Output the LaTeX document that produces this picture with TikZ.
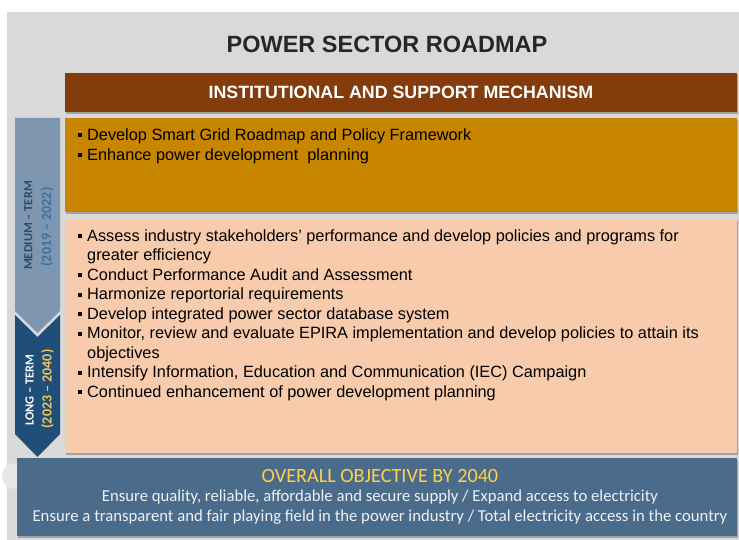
\documentclass[tikz,border=0pt]{standalone}
\usepackage{fontspec}
\setmainfont{Liberation Sans}
\newfontfamily\calib{Carlito}
\usetikzlibrary{shadows}

\definecolor{panelgray}{HTML}{D9D9D9}
\definecolor{bannerbrown}{HTML}{843C0C}
\definecolor{mediumorange}{HTML}{C78500}
\definecolor{longpeach}{HTML}{F8CBAD}
\definecolor{mediumblue}{HTML}{7F96B0}
\definecolor{longblue}{HTML}{1F4E79}
\definecolor{goalblue}{HTML}{4B6B8B}
\definecolor{goalgold}{HTML}{FFD149}
\definecolor{goaltext}{HTML}{EEF2F6}
\definecolor{titlegray}{HTML}{262626}
\definecolor{medlabel}{HTML}{2C4A6E}
\definecolor{medyear}{HTML}{3F6EA0}
\definecolor{longyear}{HTML}{F2C75C}
\definecolor{haze}{HTML}{E6E6E6}

\begin{document}
\begin{tikzpicture}[x=1pt,y=-1pt,
  panelbox/.style={rectangle,inner sep=0pt,outer sep=0pt,anchor=north west},
  boxshadow/.style={drop shadow={shadow xshift=1.2pt,shadow yshift=-2pt,opacity=0.35,fill=black!75}},
  itemline/.style={anchor=base west,inner sep=0pt,text=black,
    font=\fontsize{16.3}{19.5}\selectfont},
  sidelabel/.style={rotate=90,inner sep=0pt,font=\calib\bfseries\fontsize{12.4}{14}\selectfont},
  sideyear/.style={rotate=90,inner sep=0pt,font=\calib\bfseries\fontsize{14}{15}\selectfont},
  goalline/.style={anchor=base,inner sep=0pt,text=goaltext,font=\calib\fontsize{16.7}{19}\selectfont}]
\newcommand{\sq}{\llap{\raisebox{3pt}{\rule{4pt}{4pt}}\hspace{5.2pt}}}

% canvas and grey panel
\useasboundingbox (0,0) rectangle (739,540);
\fill[white] (0,0) rectangle (739,540);
\node[panelbox,fill=panelgray,minimum width=732pt,minimum height=528pt] (panel) at (7,12) {};
\fill[haze] (15,476) circle (13);

% title
\node[anchor=base,inner sep=0pt,text=titlegray,font=\bfseries\fontsize{23.5}{26}\selectfont]
  (title) at (387,52.5) {POWER SECTOR ROADMAP};

% banner
\node[panelbox,fill=bannerbrown,minimum width=672pt,minimum height=39pt,boxshadow,
  text=white,font=\bfseries\fontsize{17.8}{20}\selectfont] (banner) at (65,72.7)
  {INSTITUTIONAL AND SUPPORT MECHANISM};

% medium-term and long-term boxes
\node[panelbox,fill=mediumorange,minimum width=672pt,minimum height=93.5pt,boxshadow]
  (medbox) at (65,118.2) {};
\node[panelbox,fill=longpeach,minimum width=672pt,minimum height=233pt,boxshadow]
  (longbox) at (65,219.5) {};

% time-frame chevrons on the left
\fill[mediumblue] (15,118) -- (60,118) -- (60,311) -- (37.5,333) -- (15,311) -- cycle;
\fill[longblue] (15,315) -- (37.5,337) -- (60,315) -- (60,434) -- (37.5,457) -- (15,434) -- cycle;

\node[sidelabel,text=medlabel] (medlab) at (28.5,225.5) {MEDIUM – TERM};
\node[sideyear,text=medyear] (medyr) at (47,227) {(2019 – 2022)};
\node[sidelabel,text=white] (longlab) at (29.5,390) {LONG – TERM};
\node[sideyear,text=longyear] (longyr) at (47.5,389) {(2023 – 2040)};

% medium-term items
\node[itemline] (m1) at (87,140.5) {\sq Develop Smart Grid Roadmap and Policy Framework};
\node[itemline] (m2) at (87,160.5) {\sq Enhance power development\ \ planning};

% long-term items
\node[itemline] (l1) at (87,241) {\sq Assess industry stakeholders’ performance and develop policies and programs for};
\node[itemline] (l1b) at (87,260.5) {greater efficiency};
\node[itemline] (l2) at (87,280) {\sq Conduct Performance Audit and Assessment};
\node[itemline] (l3) at (87,299.5) {\sq Harmonize reportorial requirements};
\node[itemline] (l4) at (87,319) {\sq Develop integrated power sector database system};
\node[itemline] (l5) at (87,338.5) {\sq Monitor, review and evaluate EPIRA implementation and develop policies to attain its};
\node[itemline] (l5b) at (87,358) {objectives};
\node[itemline] (l6) at (87,377.5) {\sq Intensify Information, Education and Communication (IEC) Campaign};
\node[itemline] (l7) at (87,397) {\sq Continued enhancement of power development planning};

% overall objective
\node[panelbox,fill=goalblue,minimum width=720pt,minimum height=78pt,boxshadow]
  (goal) at (17,458) {};
\node[anchor=base,inner sep=0pt,text=goalgold,font=\calib\fontsize{20.2}{22}\selectfont]
  (goaltitle) at (380,482.5) {OVERALL OBJECTIVE BY 2040};
\node[goalline] (g1) at (380,501.5) {Ensure quality, reliable, affordable and secure supply / Expand access to electricity};
\node[goalline] (g2) at (380,521) {Ensure a transparent and fair playing field in the power industry / Total electricity access in the country};
\end{tikzpicture}
\end{document}
